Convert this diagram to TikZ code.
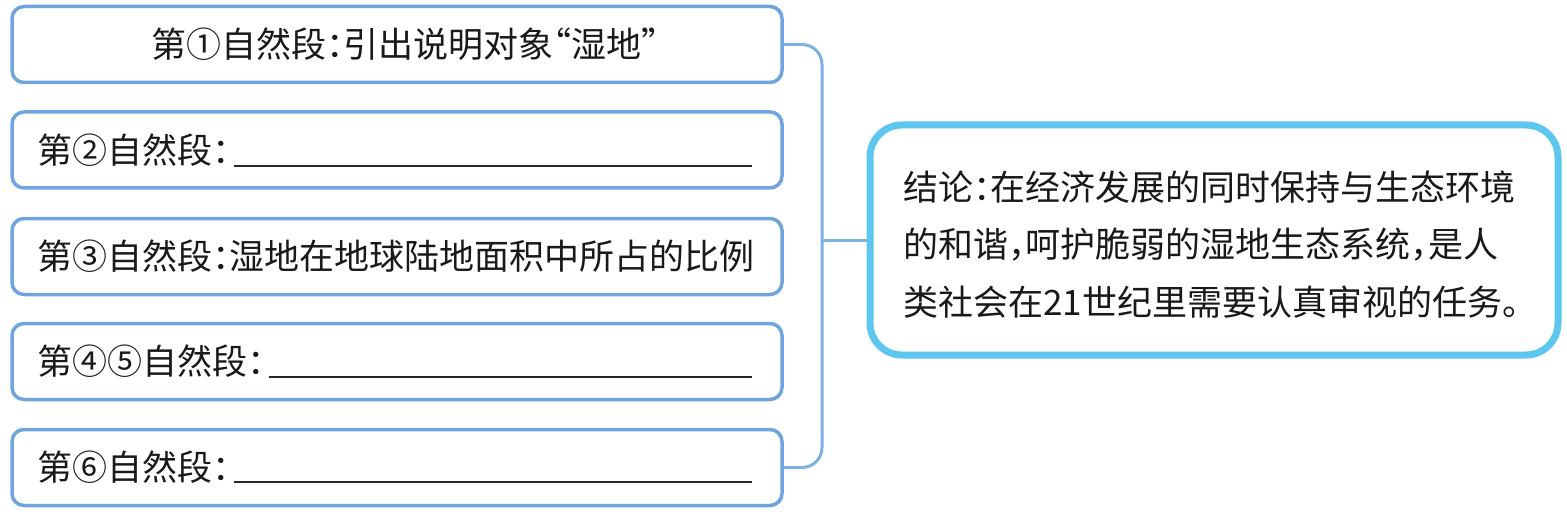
\documentclass[tikz,border=0pt]{standalone}
\usepackage{fontspec}
\setmainfont{Noto Sans CJK SC}[RawFeature=+halt]
\definecolor{boxblue}{HTML}{6FA5DE}
\definecolor{skyblue}{HTML}{5CC6EF}
\definecolor{linkblue}{HTML}{7AB0E4}
\tikzset{
  lbox/.style={draw=boxblue, line width=3.5pt, rounded corners=12pt, minimum width=770pt, minimum height=76pt, inner sep=0pt},
  cbox/.style={draw=skyblue, line width=7pt, rounded corners=32pt, minimum width=688pt, minimum height=230pt, inner sep=0pt},
  txt/.style={font=\fontsize{35pt}{40pt}\selectfont, inner sep=0pt, anchor=west, text=black!90},
  link/.style={draw=linkblue, line width=3pt},
  blank/.style={draw=black!85, line width=1.5pt}
}
\begin{document}
\begin{tikzpicture}[x=1pt, y=-1pt]
\useasboundingbox (0,0) rectangle (1567,516);
\node[lbox] (b1) at (397,44.5) {};
\node[lbox] (b2) at (397,150) {};
\node[lbox] (b3) at (397,256.5) {};
\node[lbox] (b4) at (397,361.5) {};
\node[lbox] (b5) at (397,467.5) {};
\node[cbox] (c) at (1214,240) {};
% texts
\node[txt, anchor=center] (t1) at (405,44.5) {第①自然段：引出说明对象“湿地”};
\node[txt] (t2) at (37,150) {第②自然段：};
\node[txt] (t3) at (37,256.5) {第③自然段：湿地在地球陆地面积中所占的比例};
\node[txt] (t4) at (37,361.5) {第④⑤自然段：};
\node[txt] (t5) at (37,467.5) {第⑥自然段：};
\path ([xshift=4pt]t2.east) coordinate (u2);
\path ([xshift=4pt]t4.east) coordinate (u4);
\path ([xshift=4pt]t5.east) coordinate (u5);
\draw[blank] (u2 |- 0,166) -- (752,166);
\draw[blank] (u4 |- 0,377) -- (752,377);
\draw[blank] (u5 |- 0,482) -- (752,482);
\node[txt] (r1) at (903,187) {结论：在经济发展的同时保持与生态环境};
\node[txt] (r2) at (903,245) {的和谐，呵护脆弱的湿地生态系统，是人};
\node[txt] (r3) at (903,302) {类社会在21世纪里需要认真审视的任务。};
% bracket
\coordinate (j) at (822,240);
\draw[link, rounded corners=20pt] (b1.east) -- (j |- b1.east) -- (j |- b5.east) -- (b5.east);
\draw[link] (j) -- (c.west);
\end{tikzpicture}
\end{document}
